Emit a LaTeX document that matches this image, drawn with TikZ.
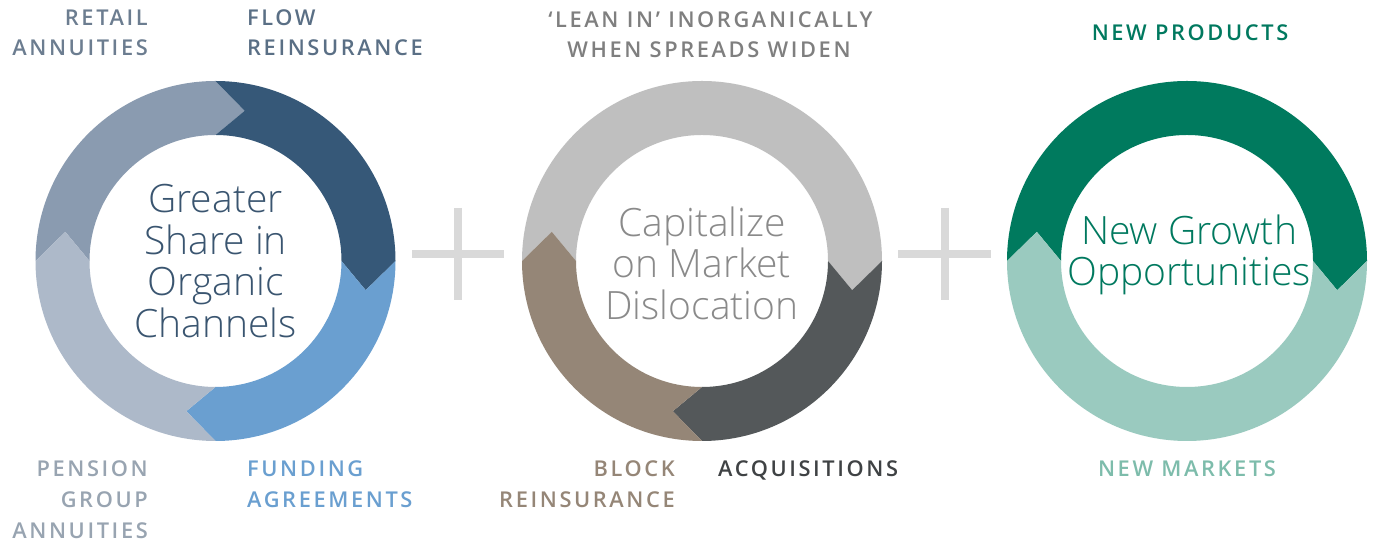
\documentclass[tikz,border=0pt]{standalone}
\usepackage{fontspec}
\setmainfont{Open Sans}
\IfFontExistsTF{Open Sans SemiBold}{%
  \newfontfamily\labfont{Open Sans SemiBold}[LetterSpace=12]}{%
  \IfFontExistsTF{Open Sans Semibold}{%
    \newfontfamily\labfont{Open Sans Semibold}[LetterSpace=12]}{%
    \newfontfamily\labfont{Open Sans}[LetterSpace=12,FakeBold=1.5]}}
\newfontfamily\bigfont{Open Sans Light}
\definecolor{rA}{HTML}{8A9BB0}
\definecolor{rB}{HTML}{365878}
\definecolor{rC}{HTML}{6A9FD0}
\definecolor{rD}{HTML}{ADB9C9}
\definecolor{mA}{HTML}{BFBFBF}
\definecolor{mB}{HTML}{54585A}
\definecolor{mC}{HTML}{958677}
\definecolor{gA}{HTML}{007A5E}
\definecolor{gB}{HTML}{9ACABF}
\definecolor{tRetail}{HTML}{6C7D90}
\definecolor{tFlow}{HTML}{5A6F85}
\definecolor{tPension}{HTML}{98A4B1}
\definecolor{tFund}{HTML}{6A9FD0}
\definecolor{tCenterA}{HTML}{3A5570}
\definecolor{tGray}{HTML}{7F7F7F}
\definecolor{tCenterB}{HTML}{8A8A8A}
\definecolor{tBlock}{HTML}{958677}
\definecolor{tAcq}{HTML}{3F4244}
\definecolor{tGreen}{HTML}{00795F}
\definecolor{tLightGreen}{HTML}{7DBCAB}
\definecolor{plusgray}{HTML}{D9D9D9}
\newcommand\ringRo{180}
\newcommand\ringRi{126}
\newcommand\ringRm{153}
\newcommand\ringseg[5]{%
  \fill[#5] ([shift={(#1,#2)}]#3:\ringRo) arc[start angle=#3, end angle=#4, radius=\ringRo]
    -- ([shift={(#1,#2)}]{#4-11}:\ringRm)
    -- ([shift={(#1,#2)}]#4:\ringRi) arc[start angle=#4, end angle=#3, radius=\ringRi]
    -- ([shift={(#1,#2)}]{#3-11}:\ringRm) -- cycle;}
\tikzset{
  lab/.style={font=\labfont\fontsize{21.8}{30}\selectfont, inner sep=0pt},
  bigtxt/.style={font=\bigfont\fontsize{39}{41.5}\selectfont, align=center, inner sep=0pt},
  plusbar/.style={draw=plusgray, line width=8pt}
}
\begin{document}
\begin{tikzpicture}[x=1pt,y=1pt]
\useasboundingbox[fill=white] (0,0) rectangle (1376,545);
% ring 1
\ringseg{215.5}{284}{180}{90}{rA}
\ringseg{215.5}{284}{90}{0}{rB}
\ringseg{215.5}{284}{0}{-90}{rC}
\ringseg{215.5}{284}{-90}{-180}{rD}
% ring 2
\ringseg{702}{284}{180}{0}{mA}
\ringseg{702}{284}{0}{-90}{mB}
\ringseg{702}{284}{-90}{-180}{mC}
% ring 3
\ringseg{1187}{284}{180}{0}{gA}
\ringseg{1187}{284}{0}{-180}{gB}
% plus signs
\draw[plusbar] (412,291) -- (504,291);
\draw[plusbar] (458,337) -- (458,245);
\draw[plusbar] (898,291) -- (991,291);
\draw[plusbar] (945,337) -- (945,245);
% center texts
\node[bigtxt, text=tCenterA] (c1) at (215.5,284) {Greater\\Share in\\Organic\\Channels};
\node[bigtxt, text=tCenterB] (c2) at (702,282) {Capitalize\\on Market\\Dislocation};
\node[bigtxt, text=tGreen] (c3) at (1189,290) {New Growth\\Opportunities};
% labels ring 1
\node[lab, text=tRetail, anchor=base east] (l1a) at (148,519.5) {RETAIL};
\node[lab, text=tRetail, anchor=base east] (l1b) at (148,489.5) {ANNUITIES};
\node[lab, text=tFlow, anchor=base west] (l2a) at (247,519.5) {FLOW};
\node[lab, text=tFlow, anchor=base west] (l2b) at (247,489.5) {REINSURANCE};
\node[lab, text=tPension, anchor=base east] (l3a) at (148,68.5) {PENSION};
\node[lab, text=tPension, anchor=base east] (l3b) at (148,37.5) {GROUP};
\node[lab, text=tPension, anchor=base east] (l3c) at (148,6.5) {ANNUITIES};
\node[lab, text=tFund, anchor=base west] (l4a) at (247,68.5) {FUNDING};
\node[lab, text=tFund, anchor=base west] (l4b) at (247,37.5) {AGREEMENTS};
% labels ring 2
\node[lab, text=tGray, anchor=base] (l5a) at (710.5,517.5) {‘LEAN IN’ INORGANICALLY};
\node[lab, text=tGray, anchor=base] (l5b) at (709,487.5) {WHEN SPREADS WIDEN};
\node[lab, text=tBlock, anchor=base east] (l6a) at (675,68.5) {BLOCK};
\node[lab, text=tBlock, anchor=base east] (l6b) at (675,37.5) {REINSURANCE};
\node[lab, text=tAcq, anchor=base west] (l7) at (718,68.5) {ACQUISITIONS};
% labels ring 3
\node[lab, text=tGreen, anchor=base] (l8) at (1190,504.5) {NEW PRODUCTS};
\node[lab, text=tLightGreen, anchor=base] (l9) at (1187,68) {NEW MARKETS};
\end{tikzpicture}
\end{document}
